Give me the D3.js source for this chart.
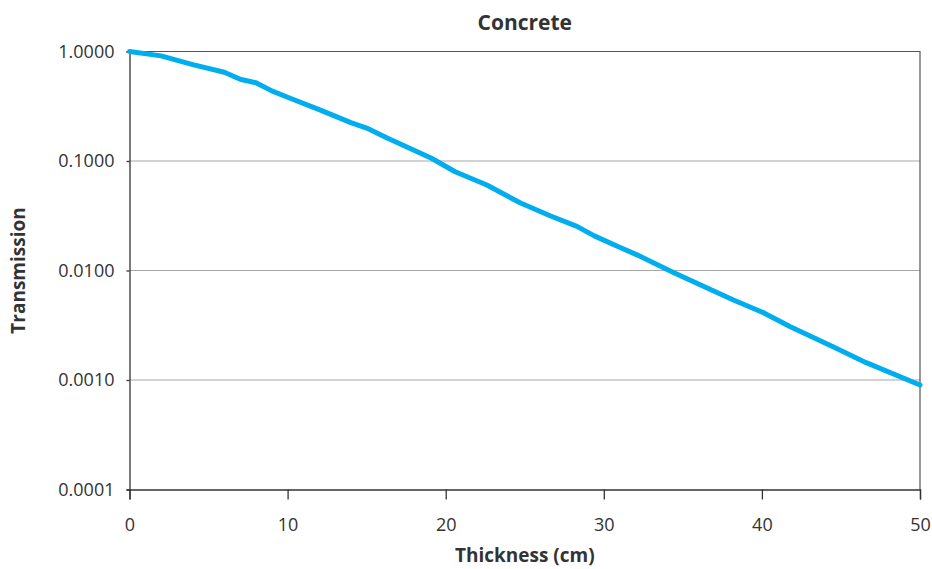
<!DOCTYPE html>
<meta charset="utf-8">
<script src="https://d3js.org/d3.v7.min.js"></script>
<style>
  body { margin: 0; background: #fff; }
  text { font-family: "Open Sans", sans-serif; fill: #333; }
</style>
<div id="chart"></div>
<script>
// thickness in cm at the bends of the curve
const thickness = [0, 2, 4, 6, 7, 8, 9, 10, 12, 14, 15, 16.3, 19.1, 20.6, 22.6, 24.7, 26.6, 28.3, 29.4, 31, 32.1, 34.4, 38.2, 40.1, 41.8, 44.5, 46.6, 50];
const transmission = [1.0, 0.912, 0.759, 0.646, 0.558, 0.519, 0.437, 0.382, 0.295, 0.224, 0.200, 0.162, 0.106, 0.0798, 0.0604, 0.0416, 0.0316, 0.0253, 0.0207, 0.0163, 0.0139, 0.0096, 0.00538, 0.00412, 0.00307, 0.00201, 0.00144, 0.0009];
const xTicks = [0, 10, 20, 30, 40, 50];
const yTicks = [1, 0.1, 0.01, 0.001, 0.0001];

const W = 932, H = 569;
const margin = {top: 51.5, right: 12, bottom: 79.5, left: 129.5},
      width = W - margin.left - margin.right,
      height = H - margin.top - margin.bottom;

const svg = d3.select("#chart").append("svg")
    .attr("width", W)
    .attr("height", H);

const g = svg.append("g")
    .attr("transform", `translate(${margin.left},${margin.top})`);

const x = d3.scaleLinear().domain([0, 50]).range([0, width]);
const y = d3.scaleLog().domain([0.0001, 1]).range([height, 0]);

// gridlines
g.selectAll(".grid")
  .data(yTicks.slice(1, 4))
  .join("line")
    .attr("x1", 0).attr("x2", width)
    .attr("y1", d => y(d)).attr("y2", d => y(d))
    .attr("stroke", "#a6a6a6")
    .attr("stroke-width", 1);

// top and right frame
g.append("path")
    .attr("d", `M0,0H${width}V${height}`)
    .attr("fill", "none")
    .attr("stroke", "#555")
    .attr("stroke-width", 1.2);

const yAxis = g.append("g")
    .call(d3.axisLeft(y).tickValues(yTicks).tickFormat(d3.format(".4f")).tickSize(3).tickPadding(12));
const xAxis = g.append("g")
    .attr("transform", `translate(0,${height})`)
    .call(d3.axisBottom(x).tickValues(xTicks).tickSize(10).tickPadding(19));

[yAxis, xAxis].forEach(a => {
  a.selectAll("path, line").attr("stroke", "#333").attr("stroke-width", 1.3);
  a.selectAll("text").style("font-size", "18px").attr("fill", "#333");
});

const line = d3.line()
    .x((d, i) => x(thickness[i]))
    .y(d => y(d));

g.append("path")
    .datum(transmission)
    .attr("d", line)
    .attr("fill", "none")
    .attr("stroke", "#00aeef")
    .attr("stroke-width", 5)
    .attr("stroke-linejoin", "round")
    .attr("stroke-linecap", "round");

svg.append("text")
    .attr("x", margin.left + width / 2)
    .attr("y", 30)
    .attr("text-anchor", "middle")
    .style("font-size", "21px")
    .style("font-weight", "bold")
    .text("Concrete");

svg.append("text")
    .attr("x", margin.left + width / 2)
    .attr("y", 562)
    .attr("text-anchor", "middle")
    .style("font-size", "19px")
    .style("font-weight", "bold")
    .text("Thickness (cm)");

svg.append("text")
    .attr("transform", `translate(25,${margin.top + height / 2}) rotate(-90)`)
    .attr("text-anchor", "middle")
    .style("font-size", "19px")
    .style("font-weight", "bold")
    .text("Transmission");
</script>
